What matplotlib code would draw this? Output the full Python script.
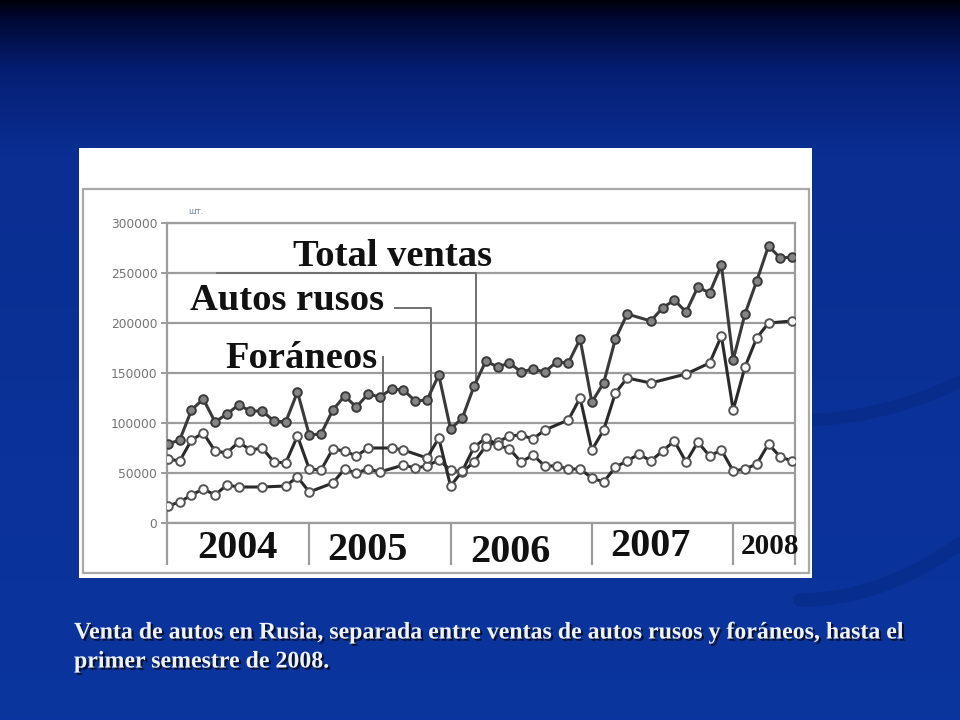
import numpy as np
import matplotlib
matplotlib.use("Agg")
import matplotlib.pyplot as plt
import matplotlib.patheffects as pe
from matplotlib.patches import Rectangle

nan = np.nan

# monthly car sales in Russia, Jan 2004 .. Jun 2008, thousands of units
# (nan = month without a marker in the original chart)
months = np.arange(54)
total_k = [79, 83, 113, 124, 101, 109, 118, 112, 112, 102, 101, 131,
           88, 89, 113, 127, 116, 129, 126, 134, 133, 122, 123, 148,
           94, 105, 137, 162, 156, 160, 151, 154, 151, 161, 160, 184,
           121, 140, 184, 209, nan, 202, 215, 223, 211, 236, 230, 258,
           163, 209, 242, 277, 265, 266]
rusos_k = [64, 62, 83, 90, 72, 70, 81, 73, 75, 61, 60, 87,
           54, 53, 74, 72, 67, 75, nan, 75, 73, nan, 65, 85,
           37, 52, 76, 85, 78, 74, 61, 68, 57, 57, 54, 54,
           45, 41, 56, 62, 69, 62, 72, 82, 61, 81, 67, 73,
           52, 54, 59, 79, 66, 62]
foraneos_k = [17, 21, 28, 34, 28, 38, 36, nan, 36, nan, 37, 46,
              31, nan, 40, 54, 50, 54, 51, nan, 58, 55, 57, 63,
              53, 51, 61, 77, 81, 87, 88, 84, 93, nan, 103, 125,
              73, 93, 130, 145, nan, 140, nan, nan, 149, nan, 160, 187,
              113, 156, 185, 200, nan, 202]

years = ["2004", "2005", "2006", "2007", "2008"]
year_starts = [0, 12, 24, 36, 48]
yticks = [0, 50000, 100000, 150000, 200000, 250000, 300000]
caption = ["Venta de autos en Rusia, separada entre ventas de autos rusos y foráneos, hasta el",
           "primer semestre de 2008."]

W, H = 960, 720
fig = plt.figure(figsize=(W / 100, H / 100), dpi=100)

# slide background (pixel coordinates)
bg = fig.add_axes([0, 0, 1, 1])
bg.set_xlim(0, W)
bg.set_ylim(H, 0)
bg.axis("off")
stops_y = [0, 18, 70, 150, 720]
stops_c = np.array([[0.00, 0.00, 0.04], [0.00, 0.03, 0.20], [0.02, 0.12, 0.45],
                    [0.04, 0.18, 0.57], [0.04, 0.21, 0.62]])
yy = np.arange(H)
grad = np.stack([np.interp(yy, stops_y, stops_c[:, k]) for k in range(3)], axis=-1)
bg.imshow(grad[:, None, :], extent=[0, W, H, 0], aspect="auto", zorder=0)

# faint swirl bands on the right
sx = np.linspace(800, 960, 50)
bg.plot(sx, 420 - 0.0015 * (sx - 800) ** 2, color="#052680", lw=9, alpha=0.45,
        solid_capstyle="round", zorder=0.5)
bg.plot(sx, 600 - 0.0022 * (sx - 800) ** 2, color="#052680", lw=10, alpha=0.45,
        solid_capstyle="round", zorder=0.5)

bg.add_patch(Rectangle((79, 148), 733, 430, facecolor="white", edgecolor="none", zorder=1))
bg.add_patch(Rectangle((83, 189), 726, 384, facecolor="none", edgecolor="#a9a9a9", lw=1.6, zorder=2))

shadow = [pe.withSimplePatchShadow(offset=(1.5, -1.5), shadow_rgbFace="#000000", alpha=0.7)]
for i, line in enumerate(caption):
    bg.text(74, 633 + i * 29, line, ha="left", va="center", color="#eef2fb",
            fontsize=17.2, fontweight="bold", family="Liberation Serif", path_effects=shadow)

# chart
ax = fig.add_axes([167 / W, 1 - 523 / H, 628 / W, 300 / H])
ax.set_facecolor("white")
ax.set_xlim(-0.08, 53.25)
ax.set_ylim(0, 300000)

grid_c = "#9c9c9c"
for v in yticks:
    ax.axhline(v, color=grid_c, lw=1.6, zorder=1)
for s in ax.spines.values():
    s.set_color(grid_c)
    s.set_linewidth(1.6)

ax.set_xticks([])
ax.set_yticks(yticks)
ax.set_yticklabels([str(v) for v in yticks])
ax.tick_params(axis="y", length=4, width=1.4, color=grid_c, pad=3,
               labelsize=8.8, labelcolor="#747474")

# year separators under the axis
x_lo, x_hi = ax.get_xlim()
ax.vlines(year_starts[1:] + [x_lo, x_hi], -42000, 0, color=grid_c, lw=1.6, clip_on=False)
year_x = [5.9, 16.9, 29.1, 41.0, 51.1]
for lab, x, y, fs in zip(years, year_x, [-25000, -28000, -29000, -23000, -23000],
                         [29, 29, 29, 29, 21]):
    ax.text(x, y, lab, ha="center", va="center", fontsize=fs, fontweight="bold",
            family="Liberation Serif", color="#111111", clip_on=False)

ax.text(2.4, 312000, "шт.", fontsize=6, color="#7082aa", ha="center", va="center", clip_on=False)


def draw(vals, lc, fc, ec):
    v = np.array(vals, dtype=float) * 1000
    m = ~np.isnan(v)
    ax.plot(months[m], v[m], color=lc, lw=2.2, marker="o", ms=6.2,
            mfc=fc, mec=ec, mew=1.4, zorder=4)


draw(foraneos_k, "#2a2a2a", "white", "#555555")
draw(rusos_k, "#2a2a2a", "white", "#555555")
draw(total_k, "#3a3a3a", "#858585", "#3a3a3a")

# series labels with leader lines
lead_c = "#707070"
ax.plot([4.2, 26.2, 26.2], [250000, 250000, 142000], color=lead_c, lw=1.4, zorder=3)
ax.plot([19.3, 22.3, 22.3], [215000, 215000, 66000], color=lead_c, lw=1.4, zorder=3)
ax.plot([18.3, 18.3], [166000, 52000], color=lead_c, lw=1.4, zorder=3)

lab_kw = dict(ha="center", va="center", fontsize=27.7, fontweight="bold",
              family="Liberation Serif", color="#111111", zorder=5)
ax.text(19.1, 266000, "Total ventas", **lab_kw)
ax.text(10.1, 222000, "Autos rusos", **lab_kw)
ax.text(11.3, 165000, "Foráneos", **lab_kw)

fig.savefig("out.png", dpi=100)
